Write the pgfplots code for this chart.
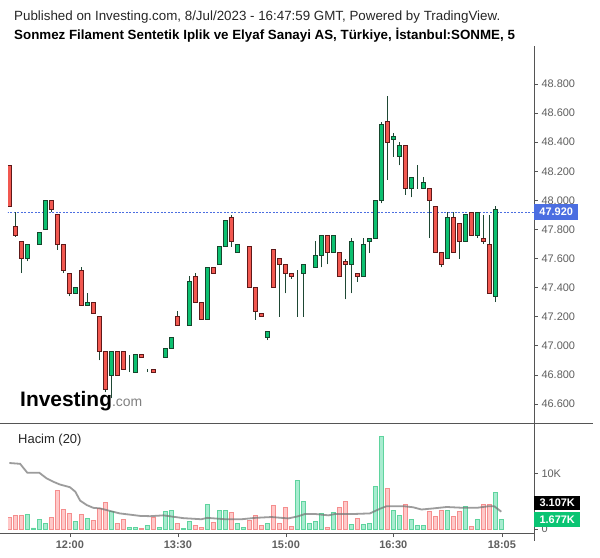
\documentclass[border=0pt]{standalone}
\usepackage{pgfplots}
\pgfplotsset{compat=1.18}
\usepackage{pgfplotstable}
\usepackage{fontspec}
\setmainfont{Liberation Sans}

\definecolor{upfill}{RGB}{12,192,112}
\definecolor{upedge}{RGB}{22,70,45}
\definecolor{dnfill}{RGB}{242,88,80}
\definecolor{dnedge}{RGB}{95,25,25}
\definecolor{wickc}{RGB}{30,72,52}
\definecolor{volupfill}{RGB}{168,236,208}
\definecolor{volupedge}{RGB}{95,212,158}
\definecolor{voldnfill}{RGB}{255,200,200}
\definecolor{voldnedge}{RGB}{245,142,142}
\definecolor{pricebl}{RGB}{75,110,225}
\definecolor{axgray}{RGB}{85,85,85}
\definecolor{lblgray}{RGB}{95,95,95}
\definecolor{labgreen}{RGB}{10,196,115}

% 5-minute bars that closed lower: index, open, high, low, close, volume (K)
\pgfplotstableread{
i  o     h     l     c     v
0  48.24 48.24 47.96 47.96 2.1
1  47.82 47.92 47.75 47.76 2.45
2  47.72 47.72 47.50 47.60 2.45
7  48.00 48.00 47.92 47.94 2.1
8  47.90 47.90 47.66 47.70 6.9
9  47.70 47.70 47.50 47.52 3.5
10 47.50 47.50 47.34 47.36 2.8
12 47.52 47.54 47.28 47.28 2.6
14 47.30 47.30 47.22 47.22 1.55
15 47.20 47.20 46.90 46.96 3.7
16 46.96 46.96 46.68 46.70 4.8
18 46.96 46.96 46.80 46.80 1.0
19 46.96 46.96 46.84 46.84 1.7
22 46.94 46.94 46.92 46.92 0.1
24 46.84 46.84 46.82 46.82 2.1
28 47.20 47.24 47.14 47.14 1.0
31 47.48 47.50 47.30 47.30 0.65
32 47.30 47.30 47.18 47.18 0.3
34 47.54 47.54 47.50 47.50 1.2
37 47.88 47.90 47.68 47.72 3.0
40 47.68 47.68 47.40 47.40 1.55
41 47.40 47.40 47.18 47.24 2.45
42 47.22 47.22 47.20 47.20 0.65
44 47.66 47.66 47.40 47.40 4.25
45 47.60 47.60 47.20 47.56 1.0
46 47.56 47.56 47.36 47.50 3.9
47 47.50 47.50 47.46 47.48 0.5
53 47.76 47.76 47.56 47.64 0.3
55 47.64 47.64 47.48 47.48 3.9
56 47.58 47.60 47.32 47.56 5.0
58 47.50 47.50 47.44 47.48 1.9
63 48.54 48.72 48.14 48.40 7.3
66 48.38 48.38 48.04 48.08 4.4
70 48.08 48.08 47.74 48.00 3.2
71 47.96 47.96 47.64 47.64 2.3
72 47.64 47.64 47.54 47.56 3.35
74 47.88 47.92 47.64 47.64 2.3
75 47.84 47.84 47.60 47.72 3.2
77 47.92 47.92 47.76 47.76 0.5
79 47.74 47.90 47.70 47.72 4.4
80 47.70 47.90 47.36 47.36 4.4
}\dnbars

% bars that closed higher or unchanged
\pgfplotstableread{
i  o     h     l     c     v
3  47.60 47.70 47.58 47.70 2.6
4  47.70 47.70 47.70 47.70 0.2
5  47.70 47.78 47.70 47.78 1.7
6  47.80 48.00 47.80 48.00 1.0
11 47.36 47.40 47.36 47.40 1.4
13 47.28 47.36 47.28 47.30 1.9
17 46.80 46.96 46.64 46.96 3.2
20 46.82 46.94 46.82 46.82 0.3
21 46.82 46.94 46.82 46.94 0.3
23 46.84 46.84 46.82 46.84 0.65
25 46.84 46.84 46.84 46.84 0.3
26 46.92 46.98 46.92 46.98 3.2
27 46.98 47.06 46.98 47.06 3.35
29 47.14 47.14 47.14 47.14 0.1
30 47.14 47.48 47.14 47.44 1.4
33 47.18 47.54 47.18 47.54 4.4
35 47.56 47.68 47.56 47.68 3.35
36 47.68 47.86 47.68 47.86 3.35
38 47.64 47.70 47.64 47.70 1.0
39 47.70 47.70 47.70 47.70 0.3
43 47.06 47.10 47.04 47.10 1.0
48 47.50 47.52 47.20 47.50 8.7
49 47.50 47.56 47.20 47.56 5.0
50 47.54 47.54 47.54 47.54 1.0
51 47.54 47.72 47.54 47.62 1.4
52 47.62 47.76 47.54 47.76 2.8
54 47.64 47.76 47.64 47.76 3.0
57 47.56 47.74 47.36 47.72 0.8
59 47.48 47.74 47.48 47.70 0.8
60 47.72 47.74 47.64 47.74 1.0
61 47.74 48.00 47.74 48.00 7.65
62 48.00 48.54 47.98 48.52 16.6
64 48.42 48.46 48.30 48.44 3.35
65 48.30 48.40 48.24 48.38 2.45
67 48.08 48.16 48.02 48.16 1.7
68 48.08 48.24 48.08 48.08 0.65
69 48.08 48.16 48.08 48.12 0.65
73 47.60 47.92 47.60 47.88 3.35
76 47.72 47.90 47.72 47.90 4.1
78 47.76 47.92 47.74 47.92 1.7
81 47.34 47.96 47.30 47.94 6.6
82 47.92 47.92 47.92 47.92 1.677
}\upbars

% volume moving average (20), K
\pgfplotstableread{
i    ma
0    11.85
1.8  11.7
3    10.1
5    10.1
6.2  9.1
7.3  8.5
8.4  8.0
10.1 7.5
11   6.7
11.8 5.1
12.9 4.3
14   3.8
15.1 3.7
16.2 3.4
17.3 3.1
18.4 2.8
20.7 2.5
21.8 2.35
23.5 2.3
25.7 2.45
27   2.25
29   1.95
32   1.75
33   2.0
36   1.75
38.7 1.75
41   2.0
43.7 2.15
46.5 1.9
48.2 2.3
49.3 2.7
50.9 2.7
53.2 2.45
54.3 2.7
57.6 2.7
60.1 2.8
61.8 3.65
62.9 4.1
65.7 4.1
67.3 3.9
68.7 3.5
70.7 3.7
72.9 3.95
75.7 3.8
77.9 3.8
80   4.1
80.8 4.1
82   3.107
}\volma

\pgfplotsset{
  pricepanel/.style={
    at={(8bp,-48bp)}, anchor=north west,
    scale only axis, width=526bp, height=375bp,
    xmin=-0.22, xmax=87.45, ymin=46.47, ymax=49.047,
  },
  bodies/.style={pricepanel, hide axis, ybar stacked, bar width=3.4bp},
  wicks/.style={draw=none, mark=none, error bars/.cd, y dir=plus, y explicit, error mark=none,
    error bar style={draw=wickc, line width=1bp}},
}

\begin{document}
\begin{tikzpicture}
\path[use as bounding box] (0,0) rectangle (600bp,-558bp);
\fill[white] (0,0) rectangle (600bp,-558bp);

\node[anchor=west, inner sep=0, font=\fontsize{13.4}{15}\selectfont, text=black!85] at (14bp,-17bp)
  {Published on Investing.com, 8/Jul/2023 - 16:47:59 GMT, Powered by TradingView.};
\node[anchor=west, inner sep=0, font=\fontsize{13.4}{15}\selectfont\bfseries, text=black] at (14bp,-35bp)
  {Sonmez Filament Sentetik Iplik ve Elyaf Sanayi AS, Türkiye, İstanbul:SONME, 5};

% price panel: axis, wicks, last price line
\begin{axis}[
  pricepanel,
  axis x line=none, axis y line*=right, axis line style={draw=none},
  xtick=\empty,
  ytick={46.6,46.8,47,47.2,47.4,47.6,47.8,48,48.2,48.4,48.6,48.8},
  yticklabels={46.600,46.800,47.000,47.200,47.400,47.600,47.800,48.000,48.200,48.400,48.600,48.800},
  tick align=outside, major tick length=4bp,
  every tick/.style={axgray, line width=0.8bp},
  yticklabel style={font=\fontsize{11}{12}\selectfont, text=lblgray, anchor=west},
]
\addplot[pricebl, line width=0.9bp, dash pattern=on 2bp off 1.5bp] coordinates {(-1,47.92) (90,47.92)};
\addplot[wicks] table[x=i, y=l, y error expr=\thisrow{h}-\thisrow{l}] {\dnbars};
\addplot[wicks] table[x=i, y=l, y error expr=\thisrow{h}-\thisrow{l}] {\upbars};
\end{axis}

% red bodies: invisible bar up to the close, then the body
\begin{axis}[bodies]
\addplot[draw=none, fill=none] table[x=i, y=c] {\dnbars};
\addplot[draw=dnedge, fill=dnfill, line width=0.9bp] table[x=i, y expr=\thisrow{o}-\thisrow{c}] {\dnbars};
\end{axis}

% green bodies: invisible bar up to the open, then the body
\begin{axis}[bodies]
\addplot[draw=none, fill=none] table[x=i, y=o] {\upbars};
\addplot[draw=upedge, fill=upfill, line width=0.9bp] table[x=i, y expr=\thisrow{c}-\thisrow{o}] {\upbars};
\end{axis}

% volume panel
\begin{axis}[
  at={(8bp,-423bp)}, anchor=north west,
  scale only axis, width=526bp, height=110bp,
  xmin=-0.22, xmax=87.45, ymin=-0.72, ymax=19.03,
  axis x line*=bottom, axis y line*=right, axis line style={draw=none},
  xtick={10.1,28.1,46.1,64,82.1},
  xticklabels={12:00,13:30,15:00,16:30,18:05},
  ytick={0,10}, yticklabels={0,10K},
  tick align=outside, major tick length=4bp,
  every tick/.style={axgray, line width=0.8bp},
  yticklabel style={font=\fontsize{11}{12}\selectfont, text=lblgray, anchor=west},
  xticklabel style={font=\fontsize{11}{12}\selectfont\bfseries, text=lblgray},
]
\addplot[ybar, bar shift=0pt, bar width=4.6bp, fill=voldnfill, draw=voldnedge, line width=0.7bp]
  table[x=i, y=v] {\dnbars};
\addplot[ybar, bar shift=0pt, bar width=4.6bp, fill=volupfill, draw=volupedge, line width=0.7bp]
  table[x=i, y=v] {\upbars};
\addplot[no marks, sharp plot, black!55, opacity=0.7, line width=1.8bp] table[x=i, y=ma] {\volma};
\end{axis}

% frame lines
\draw[axgray, line width=1bp] (534bp,-46bp) -- (534bp,-541bp);
\draw[axgray, line width=1bp] (0,-423bp) -- (593bp,-423bp);
\draw[axgray, line width=1bp] (0,-533bp) -- (534bp,-533bp);

% labels
\node[anchor=west, fill=pricebl, text=white, inner sep=0, minimum width=44bp, minimum height=16bp,
  font=\fontsize{11}{12}\selectfont\bfseries] at (534bp,-211.5bp) {47.920};
\node[anchor=west, fill=black, text=white, inner sep=0, minimum width=46bp, minimum height=14.5bp,
  font=\fontsize{11}{12}\selectfont\bfseries] at (534bp,-503bp) {3.107K};
\node[anchor=west, fill=labgreen, text=white, inner sep=0, minimum width=46bp, minimum height=14.5bp,
  font=\fontsize{11}{12}\selectfont\bfseries] at (534bp,-519.5bp) {1.677K};

\node[anchor=west, inner sep=0, font=\fontsize{13}{15}\selectfont, text=black!85] at (18bp,-440bp) {Hacim (20)};
\node[anchor=base west, inner sep=0] at (20bp,-406bp)
  {\fontsize{21}{21}\selectfont\bfseries Investing\fontsize{14}{14}\selectfont\mdseries\color{gray}.com};
\end{tikzpicture}
\end{document}
